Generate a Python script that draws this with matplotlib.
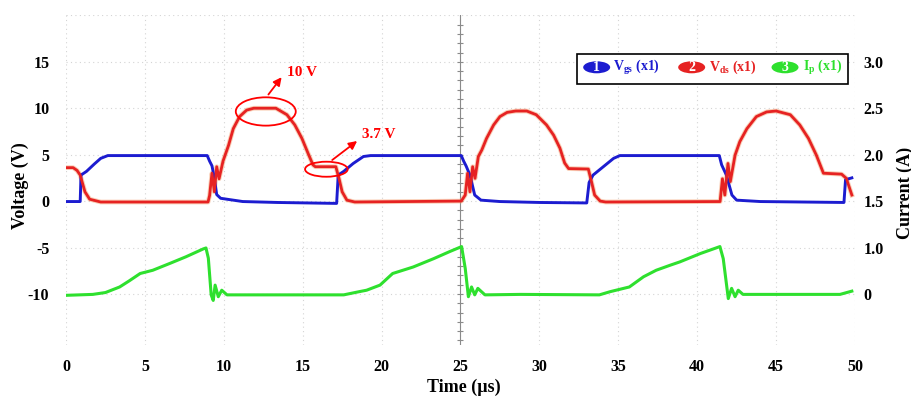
import matplotlib
matplotlib.use("Agg")
import matplotlib.pyplot as plt
import numpy as np
from matplotlib.patches import Ellipse, Rectangle

plt.rcParams['font.family'] = ['Liberation Serif', 'DejaVu Serif']
plt.rcParams['font.weight'] = 'bold'
plt.rcParams['axes.unicode_minus'] = False
plt.rcParams['mathtext.fontset'] = 'custom'
plt.rcParams['mathtext.rm'] = 'Liberation Serif:bold'
plt.rcParams['mathtext.it'] = 'Liberation Serif:bold'
plt.rcParams['mathtext.bf'] = 'Liberation Serif:bold'

# gate-source voltage (V)
t_gs = [0, 0.9, 0.95, 1.3, 1.8, 2.2, 2.65, 8.95, 9.1, 9.25, 9.4, 9.55, 9.8, 11.2, 13.4, 17.15,
        17.25, 17.6, 18.2, 18.85, 19.3, 25.05, 25.2, 25.35, 25.6, 25.9, 26.3, 27.5, 30.0, 33.0,
        33.15, 33.4, 34.05, 34.7, 35.1, 41.4, 41.55, 41.85, 42.2, 42.5, 44.0, 49.3, 49.4, 49.8]
v_gs = [-0.05, -0.05, 2.8, 3.2, 4.0, 4.6, 4.9, 4.9, 4.3, 3.8, 2.5, 0.7, 0.3, -0.05, -0.15, -0.25,
        2.8, 3.2, 4.05, 4.8, 4.9, 4.9, 4.3, 3.8, 2.8, 0.65, 0.1, -0.05, -0.15, -0.2,
        2.0, 2.8, 3.7, 4.6, 4.9, 4.9, 3.9, 2.8, 0.65, 0.1, -0.05, -0.15, 2.3, 2.5]

# drain-source voltage (V)
t_ds = [0, 0.45, 0.7, 0.9, 1.2, 1.5, 2.2, 9.0, 9.1, 9.25, 9.4, 9.55, 9.7, 9.95, 10.3, 10.6,
        11.0, 11.45, 11.9, 13.3, 14.0, 14.5, 14.95, 15.35, 15.65, 15.8, 17.1, 17.3, 17.5, 17.8,
        18.3, 25.05, 25.3, 25.45, 25.6, 25.77, 25.92, 26.13, 26.35, 26.65, 27.1, 27.5, 27.95,
        28.5, 29.2, 29.8, 30.45, 30.9, 31.3, 31.6, 31.85, 33.1, 33.3, 33.5, 33.85, 34.2, 41.45,
        41.6, 41.75, 41.95, 42.1, 42.4, 42.7, 43.15, 43.75, 44.4, 45.0, 45.9, 46.5, 47.05,
        47.55, 48.0, 49.15, 49.45, 49.8]
v_ds = [3.6, 3.6, 3.3, 2.8, 1.0, 0.2, -0.1, -0.1, 0.6, 3.0, 1.0, 3.7, 2.4, 4.3, 6.0, 7.8,
        9.1, 9.8, 10.0, 10.0, 9.3, 8.2, 6.75, 5.1, 3.9, 3.7, 3.7, 2.45, 1.0, 0.1,
        -0.1, 0.0, 0.65, 3.0, 1.0, 3.7, 2.45, 4.8, 5.5, 6.75, 8.2, 9.1, 9.55,
        9.7, 9.7, 9.3, 8.2, 7.1, 5.7, 4.1, 3.5, 3.45, 2.1, 0.65, 0.0, -0.1, -0.05,
        2.4, 0.65, 4.05, 2.1, 4.95, 6.4, 7.8, 9.1, 9.6, 9.7, 9.3, 8.2, 6.75,
        4.95, 3.0, 2.9, 2.45, 0.65]

# primary current (A)
t_p = [0, 1.7, 2.5, 3.4, 4.0, 4.7, 5.5, 6.6, 7.6, 8.7, 8.87, 9.02, 9.2, 9.33, 9.45, 9.65,
       9.87, 10.2, 11.5, 17.6, 18.6, 19.05, 19.9, 20.7, 22.0, 23.3, 24.3, 25.07, 25.3, 25.5,
       25.7, 25.9, 26.1, 26.55, 28.8, 33.8, 34.5, 35.7, 36.6, 37.4, 38.3, 38.9, 40.2, 41.44,
       41.65, 41.97, 42.18, 42.4, 42.6, 42.9, 49.05, 49.8]
i_p = [-0.03, -0.01, 0.03, 0.15, 0.28, 0.44, 0.51, 0.66, 0.80, 0.97, 0.99, 0.77, -0.02, -0.14,
       0.19, -0.06, 0.08, -0.02, -0.02, -0.02, 0.05, 0.08, 0.19, 0.44, 0.58, 0.76, 0.91, 1.02,
       0.55, -0.06, 0.15, -0.02, 0.12, -0.02, -0.01, -0.02, 0.05, 0.15, 0.37, 0.51, 0.62, 0.69,
       0.87, 1.02, 0.76, -0.10, 0.12, -0.06, 0.08, -0.01, -0.01, 0.06]

x_ticks = [0, 5, 10, 15, 20, 25, 30, 35, 40, 45, 50]
v_ticks = [15, 10, 5, 0, -5, -10]
i_ticks = [0, 1, 2, 3, 4, 5]
i_tick_labels = ['0', '1.0', '1.5', '2.0', '2.5', '3.0']

c_gs = '#1c1cd0'
c_ds = '#e62222'
c_p = '#2ee02e'

fig = plt.figure(figsize=(9.12, 3.98), dpi=100)
ax = fig.add_axes([66 / 912, 53 / 398, 789 / 912, 330 / 398])
ax.set_xlim(0, 50)
ax.set_ylim(-15.5, 20.04)

# faint scope grid
for x in x_ticks:
    ax.axvline(x, color='#d4d4d4', lw=0.8, ls=(0, (1, 3)), zorder=0)
for y in v_ticks + [20]:
    ax.axhline(y, color='#d4d4d4', lw=0.8, ls=(0, (1, 3)), zorder=0)
ax.axvline(25, color='#8a8a8a', lw=0.8, zorder=0)
ax.plot(np.full(35, 25.0), np.arange(-15, 20), ls='none', marker='_', ms=5,
        mew=0.8, color='#8a8a8a', zorder=0)

ax.plot(t_gs, v_gs, color=c_gs, lw=2.1, zorder=3)
ax.plot(t_ds, v_ds, color='#f4a070', lw=3.4, alpha=0.5, zorder=2)
ax.plot(t_ds, v_ds, color=c_ds, lw=2.0, zorder=4)

ax2 = ax.twinx()
ax2.set_ylim((-15.5 + 10) / 5, (20.04 + 10) / 5)
ax2.plot(t_p, i_p, color=c_p, lw=2.2)

ax.set_xticks(x_ticks)
ax.set_yticks(v_ticks)
ax2.set_yticks(i_ticks)
ax2.set_yticklabels(i_tick_labels)
ax.tick_params(axis='x', length=0, pad=10, labelsize=11.5)
ax.tick_params(axis='y', length=0, pad=12, labelsize=11.5)
ax2.tick_params(axis='y', length=0, pad=6, labelsize=11.5)
for a in (ax, ax2):
    for s in a.spines.values():
        s.set_visible(False)

ax.set_xlabel('Time (\u00b5s)', fontsize=13, fontweight='bold')
ax.xaxis.label.set_va('center')
ax.xaxis.set_label_coords(0.5044, -0.127)
ax.set_ylabel('Voltage (V)', fontsize=13, fontweight='bold')
ax.yaxis.label.set_va('center')
ax.yaxis.set_label_coords(-0.058, 0.482)
ax2.set_ylabel('Current (A)', fontsize=13, fontweight='bold')
ax2.yaxis.label.set_va('center')
ax2.yaxis.label.set_rotation(90)
ax2.yaxis.set_label_coords(1.0634, 0.46)

# callouts on the Vds waveform
ax.add_patch(Ellipse((12.66, 9.65), 3.8, 3.05, fill=False, ec='red', lw=1.3, zorder=5))
ax.annotate('', xy=(13.77, 13.58), xytext=(12.72, 11.24),
            arrowprops=dict(arrowstyle='-|>', color='red', lw=1.3, mutation_scale=12))
ax.text(14.0, 13.9, '10 V', color='red', fontsize=11, fontweight='bold', va='center')
ax.add_patch(Ellipse((16.5, 3.43), 2.7, 1.62, fill=False, ec='red', lw=1.3, zorder=5))
ax.annotate('', xy=(18.59, 6.65), xytext=(16.73, 4.24),
            arrowprops=dict(arrowstyle='-|>', color='red', lw=1.3, mutation_scale=12))
ax.text(18.74, 7.2, '3.7 V', color='red', fontsize=11, fontweight='bold', va='center')

# channel legend
ax.add_patch(Rectangle((0.6477, 0.7909), 0.3434, 0.0909, transform=ax.transAxes,
                       fill=True, fc='white', ec='black', lw=1.2, zorder=6))
legend_items = [('1', r'$V_{gs}$ (x1)', c_gs, 0.6726, 0.6937),
                ('2', r'$V_{ds}$ (x1)', c_ds, 0.7930, 0.8153),
                ('3', r'$I_{p}$ (x1)', c_p, 0.9113, 0.9345)]
for num, label, col, xc, xt in legend_items:
    ax.add_patch(Ellipse((xc, 0.8415), 0.0342, 0.0364, transform=ax.transAxes,
                         fc=col, ec='none', zorder=7))
    ax.text(xc, 0.8405, num, transform=ax.transAxes, color='white', fontsize=10,
            fontweight='bold', ha='center', va='center', zorder=8)
    ax.text(xt, 0.8415, label, transform=ax.transAxes, color=col, fontsize=10,
            fontweight='bold', va='center', zorder=8)

fig.savefig('out.png', dpi=100)
